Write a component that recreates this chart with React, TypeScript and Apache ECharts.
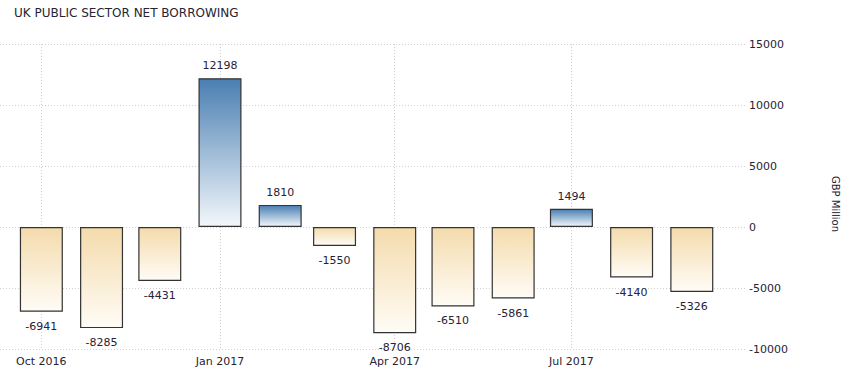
import React, { useEffect, useRef } from "react";
import * as echarts from "echarts";

const months: string[] = [
  "2016-10", "2016-11", "2016-12", "2017-01", "2017-02", "2017-03",
  "2017-04", "2017-05", "2017-06", "2017-07", "2017-08", "2017-09",
];
const values: number[] = [
  -6941, -8285, -4431, 12198, 1810, -1550, -8706, -6510, -5861, 1494, -4140, -5326,
];
const tickMonths: string[] = ["2016-10", "2017-01", "2017-04", "2017-07"];
const tickLabels: string[] = ["Oct 2016", "Jan 2017", "Apr 2017", "Jul 2017"];
const yTicks: number[] = [-10000, -5000, 0, 5000, 10000, 15000];

const DAY = 86400000;
const toTs = (m: string) => {
  const [y, mo] = m.split("-").map(Number);
  return Date.UTC(y, mo - 1, 1);
};

export default function App() {
  const ref = useRef<HTMLDivElement>(null);
  useEffect(() => {
    if (!ref.current) return;
    const chart = echarts.init(ref.current, null, { renderer: "svg" });
    const minTs = toTs("2016-10") - 21.3 * DAY;
    const maxTs = minTs + 383.7 * DAY;
    const tickTs = tickMonths.map(toTs);
    const posGrad = new echarts.graphic.LinearGradient(0, 0, 0, 1, [
      { offset: 0, color: "#4a7fb2" },
      { offset: 1, color: "#f3f7fb" },
    ]);
    const negGrad = new echarts.graphic.LinearGradient(0, 0, 0, 1, [
      { offset: 0, color: "#f4dbac" },
      { offset: 1, color: "#fffcf6" },
    ]);
    const font = "DejaVu Sans";
    const textColor = "#262335";
    const data = months.map((m, i) => {
      const v = values[i];
      return {
        value: [toTs(m), v],
        itemStyle: { color: v >= 0 ? posGrad : negGrad },
        label: {
          position: v >= 0 ? "top" : "bottom",
          distance: v >= 0 ? 7 : 9,
        },
      };
    });
    chart.setOption({
      animation: false,
      title: {
        text: "UK PUBLIC SECTOR NET BORROWING",
        left: 14,
        top: 7,
        padding: 0,
        textStyle: { fontFamily: font, fontSize: 12, fontWeight: "normal", color: textColor },
      },
      grid: { left: 0, right: 104, top: 44, bottom: 35 },
      xAxis: {
        type: "value",
        min: minTs,
        max: maxTs,
        axisLine: { show: false },
        axisTick: {
          show: true,
          customValues: tickTs,
          length: 4,
          lineStyle: { color: "#d0d0d0", type: [1, 2] },
        },
        axisLabel: {
          customValues: tickTs,
          margin: 7,
          fontFamily: font,
          fontSize: 11,
          color: textColor,
          formatter: (val: number) => {
            const idx = tickTs.indexOf(val);
            return idx >= 0 ? tickLabels[idx] : "";
          },
        },
        splitLine: { show: true, lineStyle: { color: "#d0d0d0", type: [1, 2] } },
      },
      yAxis: {
        type: "value",
        position: "right",
        min: yTicks[0],
        max: yTicks[yTicks.length - 1],
        interval: 5000,
        axisLine: { show: false },
        axisTick: { show: false },
        axisLabel: {
          margin: 4,
          fontFamily: font,
          fontSize: 11,
          color: textColor,
          formatter: (v: number) => String(v),
        },
        splitLine: { show: true, lineStyle: { color: "#d0d0d0", type: [1, 2] } },
      },
      graphic: [
        {
          type: "text",
          x: 835,
          y: 204,
          rotation: -Math.PI / 2,
          style: {
            text: "GBP Million",
            fontFamily: font,
            fontSize: 10,
            fill: textColor,
            align: "center",
            verticalAlign: "middle",
          },
        },
      ],
      series: [
        {
          type: "bar",
          barWidth: 43,
          data,
          itemStyle: { borderColor: "#333", borderWidth: 1.2 },
          label: {
            show: true,
            fontFamily: font,
            fontSize: 11,
            color: textColor,
            formatter: (p: any) => String(p.value[1]),
          },
        },
      ],
    });
    return () => chart.dispose();
  }, []);
  return <div ref={ref} style={{ width: 849, height: 384, position: "absolute", left: 0, top: 0 }} />;
}
